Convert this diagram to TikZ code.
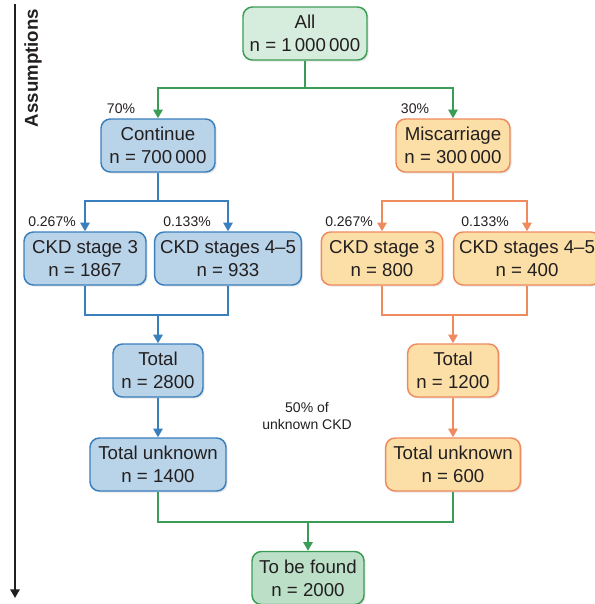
\documentclass[tikz,border=0pt]{standalone}
\usepackage{fontspec}
\setmainfont{Liberation Sans}
\usetikzlibrary{arrows.meta,shadows}

\definecolor{bluefill}{HTML}{B9D3E8}
\definecolor{blueline}{HTML}{3A7FBD}
\definecolor{orangefill}{HTML}{FBDFA6}
\definecolor{orangeline}{HTML}{EF8A5E}
\definecolor{greenfill}{HTML}{D6EDDE}
\definecolor{greenfilldark}{HTML}{BBDFC7}
\definecolor{greenline}{HTML}{3B9C55}
\definecolor{textgray}{HTML}{231F20}

\begin{document}
\begin{tikzpicture}[x=0.75pt,y=-0.75pt,>={Triangle[length=6.5pt,width=7pt]},
  box/.style={draw,rounded corners=7pt,line width=1.1pt,minimum height=39.75pt,
    align=center,inner sep=2pt,text=textgray,font=\fontsize{14}{17}\selectfont,
    drop shadow={opacity=0.2,shadow xshift=1.2pt,shadow yshift=-1.2pt}},
  bluebox/.style={box,fill=bluefill,draw=blueline},
  orangebox/.style={box,fill=orangefill,draw=orangeline},
  greenbox/.style={box,fill=greenfill,draw=greenline},
  pct/.style={text=textgray,font=\fontsize{10.5}{12.5}\selectfont,inner sep=0pt},
  blink/.style={draw=blueline,line width=1.5pt},
  olink/.style={draw=orangeline,line width=1.5pt},
  glink/.style={draw=greenline,line width=1.5pt}]
  \useasboundingbox (0,0) rectangle (595,604);
  \clip (0,0) rectangle (595,604);

  % axis on the left
  \coordinate (axtop) at (15,4);
  \coordinate (axbot) at (15,598);
  \draw[->,line width=1.3pt,textgray] (axtop) -- (axbot);
  \node[rotate=90,font=\fontsize{14}{16}\selectfont\bfseries,text=textgray] (assum) at (33,68) {Assumptions};

  % boxes
  \node[greenbox,minimum width=93pt] (all) at (305,33.5) {All\\n = 1\,000\,000};
  \node[bluebox,minimum width=85.5pt] (cont) at (158,145.5) {Continue\\n = 700\,000};
  \node[orangebox,minimum width=85.5pt] (misc) at (453,145.5) {Miscarriage\\n = 300\,000};

  \node[bluebox,minimum width=91.5pt] (bthree) at (85,258.5) {CKD stage 3\\n = 1867};
  \node[bluebox,minimum width=110pt] (bfour) at (228,258.5) {CKD stages 4--5\\n = 933};
  \node[orangebox,minimum width=91pt] (othree) at (382,258.5) {CKD stage 3\\n = 800};
  \node[orangebox,minimum width=110pt] (ofour) at (527,258.5) {CKD stages 4--5\\n = 400};

  \node[bluebox,minimum width=67.5pt] (btot) at (158,370.5) {Total\\n = 2800};
  \node[orangebox,minimum width=68pt] (otot) at (453,370.5) {Total\\n = 1200};

  \node[bluebox,minimum width=102pt] (bunk) at (158,464.5) {Total unknown\\n = 1400};
  \node[orangebox,minimum width=101pt] (ounk) at (453,464.5) {Total unknown\\n = 600};

  \node[greenbox,fill=greenfilldark,minimum width=84pt] (found) at (308,578) {To be found\\n = 2000};

  % percentages
  \node[pct] (pseventy) at (121,109) {70\%};
  \node[pct] (pthirty) at (415,109) {30\%};
  \node[pct] (pbthree) at (52,222) {0.267\%};
  \node[pct] (pbfour) at (187,222) {0.133\%};
  \node[pct] (pothree) at (349,222) {0.267\%};
  \node[pct] (pofour) at (485,222) {0.133\%};
  \node[pct,align=center] (half) at (307,416) {50\% of\\unknown CKD};

  % connectors
  \draw[glink,->] (all.south) -- ++(0,27) -| (cont.north);
  \draw[glink,->] (all.south) -- ++(0,27) -| (misc.north);

  \draw[blink,->] (cont.south) -- ++(0,28) -| (bthree.north);
  \draw[blink,->] (cont.south) -- ++(0,28) -| (bfour.north);
  \draw[olink,->] (misc.south) -- ++(0,28) -| (othree.north);
  \draw[olink,->] (misc.south) -- ++(0,28) -| (ofour.north);

  \coordinate (bjoin) at (158,315);
  \coordinate (ojoin) at (453,315);
  \draw[blink] (bthree.south) |- (bjoin) -| (bfour.south);
  \draw[blink,->] (bjoin) -- (btot.north);
  \draw[olink] (othree.south) |- (ojoin) -| (ofour.south);
  \draw[olink,->] (ojoin) -- (otot.north);

  \draw[blink,->] (btot.south) -- (bunk.north);
  \draw[olink,->] (otot.south) -- (ounk.north);

  \coordinate (gjoin) at (308,522);
  \draw[glink] (bunk.south) |- (gjoin) -| (ounk.south);
  \draw[glink,->] (gjoin) -- (found.north);
\end{tikzpicture}
\end{document}
